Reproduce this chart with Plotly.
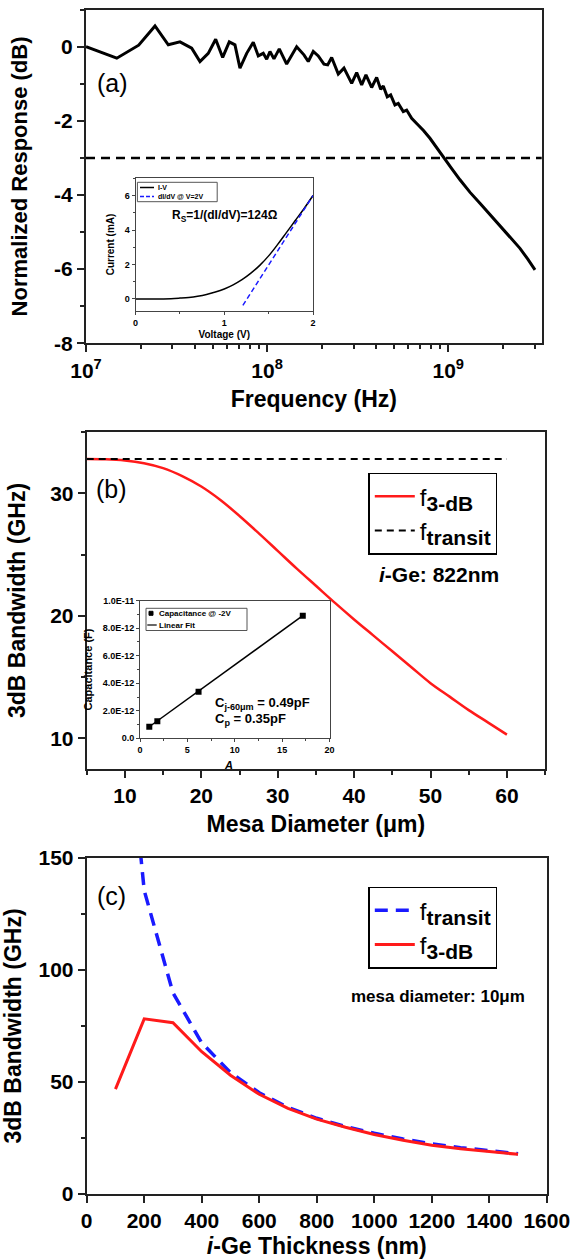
import plotly.graph_objects as go

W, H = 573, 1259
FONT = "Liberation Sans, Arial, sans-serif"

# ---------------- (a) frequency response ----------------
freq_hz = [1.000e7, 1.479e7, 1.954e7, 2.256e7, 2.404e7, 2.847e7, 3.303e7, 3.833e7,
           4.259e7, 4.731e7, 5.200e7, 5.683e7, 6.182e7, 6.644e7, 7.080e7, 7.712e7,
           8.386e7, 8.937e7, 9.524e7, 9.943e7, 1.037e8, 1.091e8, 1.167e8, 1.282e8,
           1.456e8, 1.597e8, 1.687e8, 1.798e8, 1.916e8, 2.060e8, 2.159e8, 2.272e8,
           2.471e8, 2.657e8, 2.930e8, 3.122e8, 3.327e8, 3.513e8, 3.777e8, 4.025e8,
           4.236e8, 4.378e8, 4.606e8, 4.809e8, 5.079e8, 5.297e8, 5.644e8, 5.893e8,
           6.281e8, 6.693e8, 7.300e8, 7.925e8, 8.600e8, 9.462e8, 1.050e9, 1.161e9,
           1.320e9, 1.496e9, 1.750e9, 2.014e9, 2.250e9, 2.489e9, 2.750e9, 3.013e9]
resp_db = [0.00, -0.31, 0.04, 0.40, 0.56, 0.05, 0.13, -0.04,
           -0.40, -0.18, 0.20, -0.29, 0.13, 0.05, -0.58, -0.18,
           0.12, -0.25, -0.18, -0.34, -0.13, -0.33, -0.06, -0.47,
           0.00, -0.22, -0.40, -0.13, -0.25, -0.47, -0.49, -0.29,
           -0.74, -0.58, -0.99, -0.70, -1.03, -0.76, -1.10, -0.83,
           -1.15, -1.06, -1.35, -1.30, -1.57, -1.53, -1.75, -1.71,
           -1.93, -2.07, -2.26, -2.47, -2.72, -3.01, -3.30, -3.59,
           -3.93, -4.22, -4.60, -4.94, -5.20, -5.44, -5.73, -6.02]
cutoff_db = -3

# inset (a): I-V
iv_voltage = [0, 0.2, 0.4, 0.5, 0.6, 0.7, 0.8, 0.9, 1.0, 1.1, 1.2, 1.3, 1.4,
              1.5, 1.6, 1.7, 1.8, 1.9, 2.0]
iv_current = [0, 0.0, 0.02, 0.05, 0.09, 0.16, 0.26, 0.40, 0.58, 0.82, 1.12, 1.50,
              1.95, 2.50, 3.15, 3.85, 4.55, 5.25, 6.00]
tangent_voltage = [1.21, 2.0]
tangent_current = [-0.37, 6.0]

# ---------------- (b) bandwidth vs mesa diameter ----------------
mesa_diam_um = [5, 7.5, 10, 12.5, 15, 17.5, 20, 22.5, 25, 27.5, 30, 32.5, 35,
                37.5, 40, 42.5, 45, 47.5, 50, 52.5, 55, 57.5, 60]
f3db_b_ghz = [32.8, 32.78, 32.68, 32.45, 32.05, 31.4, 30.55, 29.45, 28.15, 26.75,
              25.3, 23.85, 22.45, 21.05, 19.7, 18.4, 17.1, 15.8, 14.5, 13.4,
              12.3, 11.3, 10.3]
transit_diam_um = [5, 60]
ftransit_b_ghz = [32.8, 32.8]

# inset (b): capacitance
cap_area = [0.98, 1.83, 6.18, 17.18]
cap_farad = [0.84e-12, 1.24e-12, 3.39e-12, 8.91e-12]
fit_area = [0.98, 17.18]
fit_farad = [0.84e-12, 8.91e-12]

# ---------------- (c) bandwidth vs i-Ge thickness ----------------
thickness_nm = [100, 200, 300, 400, 500, 600, 700, 800, 900, 1000, 1100, 1200,
                1300, 1400, 1500]
ftransit_c_ghz = [265, 135.5, 89.8, 67.5, 54.2, 45.2, 38.7, 33.8, 30.1, 27.1,
                  24.6, 22.4, 20.7, 19.2, 18.0]
f3db_c_ghz = [46.8, 78.2, 76.5, 63.5, 53.0, 44.5, 38.2, 33.4, 29.8, 26.6, 24.0,
              21.8, 20.2, 18.9, 17.7]

BLUE = "#1a1aff"
RED = "#ff1a1a"


def px_x(p):
    return p / W


def px_y(p):
    return 1 - p / H


def bold(size, color="black"):
    return dict(family=FONT, size=size, color=color, weight="bold")


def big_sub(base, sub, size=21):
    return f"{base}<sub><span style='font-size:{size}px;font-weight:bold'>{sub}</span></sub>"


AX = "#222222"

fig = go.Figure()

# (a)
fig.add_trace(go.Scatter(x=freq_hz, y=resp_db, mode="lines", xaxis="x", yaxis="y",
                         name="response", line=dict(color="black", width=3),
                         showlegend=False))
# inset (a)
fig.add_trace(go.Scatter(x=iv_voltage, y=iv_current, mode="lines", xaxis="x2", yaxis="y2",
                         name="I-V", line=dict(color="black", width=1.5, shape="spline"),
                         showlegend=False))
fig.add_trace(go.Scatter(x=tangent_voltage, y=tangent_current, mode="lines", xaxis="x2",
                         yaxis="y2", name="dI/dV @ V=2V",
                         line=dict(color=BLUE, width=1.5, dash="5px,3px"),
                         showlegend=False))
# (b)
fig.add_trace(go.Scatter(x=mesa_diam_um, y=f3db_b_ghz, mode="lines", xaxis="x3", yaxis="y3",
                         name=big_sub("f", "3-dB"), legendrank=1,
                         line=dict(color=RED, width=2.5, shape="spline"),
                         legend="legend2"))
fig.add_trace(go.Scatter(x=transit_diam_um, y=ftransit_b_ghz, mode="lines", xaxis="x3",
                         yaxis="y3", name=big_sub("f", "transit"), legendrank=2,
                         line=dict(color="black", width=2, dash="7px,5px"),
                         legend="legend2"))
# inset (b)
fig.add_trace(go.Scatter(x=cap_area, y=cap_farad, mode="markers", xaxis="x4", yaxis="y4",
                         name="Capacitance @ -2V",
                         marker=dict(symbol="square", size=6, color="black"),
                         showlegend=False))
fig.add_trace(go.Scatter(x=fit_area, y=fit_farad, mode="lines", xaxis="x4", yaxis="y4",
                         name="Linear Fit", line=dict(color="black", width=1.5),
                         showlegend=False))
# (c)
fig.add_trace(go.Scatter(x=thickness_nm, y=ftransit_c_ghz, mode="lines", xaxis="x5",
                         yaxis="y5", name=big_sub("f", "transit"),
                         line=dict(color=BLUE, width=3.5, dash="13px,8px"),
                         legend="legend4"))
fig.add_trace(go.Scatter(x=thickness_nm, y=f3db_c_ghz, mode="lines", xaxis="x5", yaxis="y5",
                         name=big_sub("f", "3-dB"), line=dict(color=RED, width=3),
                         legend="legend4"))

shapes = []
# -3 dB reference line
shapes.append(dict(type="line", xref="x domain", yref="y", x0=0, x1=1, y0=cutoff_db,
                   y1=cutoff_db, line=dict(color="black", width=2.5, dash="9px,6px")))


# small hand-built legends for the two insets (plotly's legend rows are too tall)
def pline(x0, x1, y, color, width, dash="solid"):
    return dict(type="line", xref="paper", yref="paper", x0=px_x(x0), x1=px_x(x1),
                y0=px_y(y), y1=px_y(y), line=dict(color=color, width=width, dash=dash))


def prect(x0, x1, y0, y1, line_color="#555", fill=None, width=1):
    d = dict(type="rect", xref="paper", yref="paper", x0=px_x(x0), x1=px_x(x1),
             y0=px_y(y1), y1=px_y(y0), line=dict(color=line_color, width=width))
    if fill:
        d["fillcolor"] = fill
    return d


shapes += [
    prect(137.4, 217.2, 182.3, 201.7),
    pline(140, 154, 187.5, "black", 1.5),
    pline(140, 154, 196.5, BLUE, 1.5, "4px,2px"),
    prect(146, 247, 608.3, 630.5),
    prect(149, 153, 611.3, 615.3, line_color="black", fill="black"),
    pline(147.3, 156.7, 625, "black", 1.2),
]


def main_axis(**kw):
    d = dict(showline=True, linecolor=AX, linewidth=2, mirror=True, ticks="outside",
             ticklen=7, tickwidth=2, tickcolor=AX, showgrid=False, zeroline=False,
             tickfont=bold(21), automargin=False)
    d.update(kw)
    return d


def inset_axis(**kw):
    d = dict(showline=True, linecolor="#444", linewidth=1, mirror=True, ticks="outside",
             ticklen=3, tickwidth=1, tickcolor="#444", showgrid=False, zeroline=False,
             tickfont=bold(9), automargin=False)
    d.update(kw)
    return d


minor_main = dict(ticks="outside", ticklen=4, tickwidth=1.5, tickcolor=AX)
minor_in = dict(ticks="outside", ticklen=2, tickwidth=1, tickcolor="#444")

log_minor = [m * 10 ** e for e in (7, 8) for m in range(2, 10)] + [2e9, 3e9]

fig.update_layout(
    width=W, height=H, margin=dict(l=0, r=0, t=0, b=0),
    paper_bgcolor="white", plot_bgcolor="white",
    font=dict(family=FONT, color="black"),
    # (a)
    xaxis=main_axis(type="log", range=[7, 9.516], domain=[px_x(86), px_x(541.7)],
                    anchor="y", tickvals=[1e7, 1e8, 1e9],
                    ticktext=["10<sup>7</sup>", "10<sup>8</sup>", "10<sup>9</sup>"],
                    minor=dict(tickvals=log_minor, **minor_main),
                    title=dict(text="Frequency (Hz)", font=bold(23), standoff=10)),
    yaxis=main_axis(range=[-8, 1], domain=[px_y(343.3), px_y(9.6)], anchor="x",
                    tickvals=[-8, -6, -4, -2, 0], ticktext=["-8", "-6", "-4", "-2", "0"],
                    minor=dict(tick0=-8, dtick=1, **minor_main),
                    title=dict(text="Normalized Response (dB)", font=bold(22), standoff=20)),
    # inset (a)
    xaxis2=inset_axis(range=[0, 2], domain=[px_x(135.5), px_x(313)], anchor="y2",
                      dtick=1, minor=dict(dtick=0.5, **minor_in),
                      title=dict(text="Voltage (V)", font=bold(10), standoff=4)),
    yaxis2=inset_axis(range=[-0.68, 7.0], domain=[px_y(310.7), px_y(178.3)], anchor="x2",
                      tickvals=[0, 2, 4, 6], minor=dict(dtick=1, **minor_in),
                      title=dict(text="Current (mA)", font=bold(10), standoff=8)),
    # (b)
    xaxis3=main_axis(range=[5, 65], domain=[px_x(86.7), px_x(545.1)], anchor="y3",
                     tick0=10, dtick=10, minor=dict(tick0=5, dtick=5, **minor_main),
                     title=dict(text="Mesa Diameter (μm)", font=bold(23), standoff=10)),
    yaxis3=main_axis(range=[7.5, 35], domain=[px_y(768.9), px_y(432.05)], anchor="x3",
                     tickvals=[10, 20, 30], minor=dict(tick0=5, dtick=5, **minor_main),
                     title=dict(text="3dB Bandwidth (GHz)", font=bold(23), standoff=18)),
    # inset (b)
    xaxis4=inset_axis(range=[0, 20], domain=[px_x(140), px_x(329.5)], anchor="y4",
                      dtick=5, minor=dict(dtick=2.5, **minor_in)),
    yaxis4=inset_axis(range=[0, 1e-11], domain=[px_y(738.3), px_y(600.7)], anchor="x4",
                      tickvals=[0, 2e-12, 4e-12, 6e-12, 8e-12, 1e-11],
                      ticktext=["0.0", "2.0E-12", "4.0E-12", "6.0E-12", "8.0E-12", "1.0E-11"],
                      minor=dict(dtick=1e-12, **minor_in),
                      title=dict(text="Capacitance (F)", font=bold(11), standoff=7)),
    # (c)
    xaxis5=main_axis(range=[0, 1600], domain=[px_x(86.7), px_x(546.8)], anchor="y5",
                     dtick=200,
                     title=dict(text="<i>i</i>-Ge Thickness (nm)", font=bold(23), standoff=10)),
    yaxis5=main_axis(range=[0, 150], domain=[px_y(1194), px_y(858)], anchor="x5",
                     dtick=50, minor=dict(dtick=25, **minor_main),
                     title=dict(text="3dB Bandwidth (GHz)", font=bold(23), standoff=16)),
    # legends for main panels
    legend2=dict(x=px_x(368.3), y=px_y(472.7), xanchor="left", yanchor="top",
                 bordercolor="black", borderwidth=1.5, bgcolor="white",
                 font=dict(family=FONT, size=24, color="black"), itemwidth=40),
    legend4=dict(x=px_x(368.3), y=px_y(886.7), xanchor="left", yanchor="top",
                 bordercolor="black", borderwidth=1.5, bgcolor="white",
                 font=dict(family=FONT, size=24, color="black"), itemwidth=40),
    shapes=shapes,
)

annotations = [
    dict(text="(a)", x=px_x(112), y=px_y(83), font=dict(family=FONT, size=25)),
    dict(text="(b)", x=px_x(111.7), y=px_y(489), font=dict(family=FONT, size=25)),
    dict(text="(c)", x=px_x(111), y=px_y(896), font=dict(family=FONT, size=25)),
    dict(text="R<sub>S</sub>=1/(dI/dV)=124Ω", x=px_x(224.8), y=px_y(216), font=bold(12)),
    dict(text="I-V", x=px_x(156), y=px_y(187.5), xanchor="left", font=bold(7)),
    dict(text="dI/dV @ V=2V", x=px_x(156), y=px_y(196.5), xanchor="left", font=bold(7)),
    dict(text="<i>i</i>-Ge: 822nm", x=px_x(439), y=px_y(575), font=bold(21)),
    dict(text="Capacitance @ -2V", x=px_x(157), y=px_y(613.3), xanchor="left",
         font=bold(8)),
    dict(text="Linear Fit", x=px_x(157), y=px_y(625), xanchor="left", font=bold(8)),
    dict(text="C<sub>j-60μm</sub> = 0.49pF", x=px_x(213.3), y=px_y(703),
         xanchor="left", font=bold(13)),
    dict(text="C<sub>p</sub> = 0.35pF", x=px_x(213.3), y=px_y(719), xanchor="left",
         font=bold(13)),
    dict(text="<i>A</i>", x=px_x(228), y=px_y(765), font=bold(11)),
    dict(text="mesa diameter: 10μm", x=px_x(438.3), y=px_y(996.7), font=bold(17)),
]
for a in annotations:
    a.setdefault("xanchor", "center")
    a.update(xref="paper", yref="paper", yanchor="middle", showarrow=False)
fig.update_layout(annotations=annotations)

fig.write_html("out.html")
